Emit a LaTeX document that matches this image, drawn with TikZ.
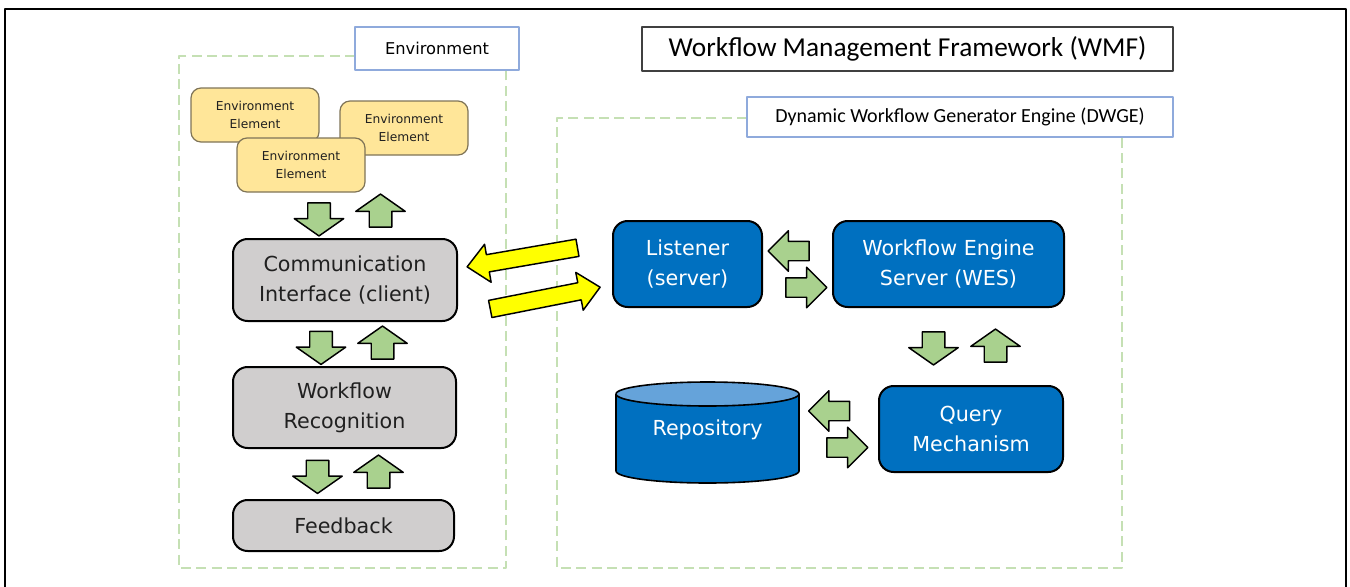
\documentclass[tikz,border=0pt]{standalone}
\usepackage{fontspec}
\setmainfont{DejaVu Sans}
\newfontfamily\calibrifont{Carlito}
\usetikzlibrary{shapes.arrows}

\definecolor{labelblue}{HTML}{8FAADC}
\definecolor{zonegreen}{HTML}{C5E0B4}
\definecolor{elemyellow}{HTML}{FFE699}
\definecolor{elemborder}{HTML}{7F7457}
\definecolor{greyfill}{HTML}{D0CECE}
\definecolor{serverblue}{HTML}{0070C0}
\definecolor{repotop}{HTML}{65A3DA}
\definecolor{flowgreen}{HTML}{A9D18E}
\definecolor{linkyellow}{HTML}{FFFF00}
\definecolor{darktext}{HTML}{202020}

\begin{document}
\begin{tikzpicture}[x=0.75pt, y=-0.75pt, every node/.style={align=center, inner sep=0pt}, line join=round]
		\tikzstyle{labelbox} = [draw=labelblue, fill=white, line width=0.9pt]
		\tikzstyle{zone} = [draw=zonegreen, line width=1.5pt, dash pattern=on 7.5pt off 4pt]
		\tikzstyle{element} = [draw=elemborder, fill=elemyellow, line width=0.9pt, rounded corners=7.5pt, minimum width=96pt, minimum height=40.5pt, font=\fontsize{9.2}{13}\selectfont, text=darktext]
		\tikzstyle{client} = [draw=black, fill=greyfill, line width=1.5pt, rounded corners=11pt, font=\fontsize{15.5}{22.5}\selectfont, text=darktext]
		\tikzstyle{server} = [draw=black, fill=serverblue, line width=1.5pt, rounded corners=11pt, font=\fontsize{15.5}{22.5}\selectfont, text=white]
		\tikzstyle{flowv} = [single arrow, draw=black, fill=flowgreen, line width=1.1pt, inner xsep=0pt, inner ysep=7.9pt, minimum height=24.75pt, single arrow head extend=10.1pt, single arrow tip angle=110]
		\tikzstyle{flowh} = [single arrow, draw=black, fill=flowgreen, line width=1.1pt, inner xsep=0pt, inner ysep=6.75pt, minimum height=30.75pt, single arrow head extend=7.9pt, single arrow tip angle=90]
		\tikzstyle{link} = [single arrow, draw=black, fill=linkyellow, line width=1.1pt, inner xsep=0pt, inner ysep=6pt, minimum height=84pt, single arrow head extend=7.9pt, single arrow tip angle=85]
		
		\useasboundingbox (0,0) rectangle (1350,586);
		\draw[line width=2pt] (5,592) -- (5,9) -- (1346,9) -- (1346,592);
		
		% dashed zones
		\draw[zone] (355,56) -- (179,56) -- (179,568) -- (506,568) -- (506,70);
		\draw[zone] (747,118) -- (557,118) -- (557,568) -- (1122,568) -- (1122,137);
		
		% labels
		\node[labelbox, minimum width=123pt, minimum height=32.25pt, font=\fontsize{12.2}{14}\selectfont] (envlabel) at (437,48.5) {Environment};
		\node[draw=black!75, line width=0.9pt, fill=white, minimum width=398.25pt, minimum height=33pt, font=\calibrifont\fontsize{20.5}{24}\selectfont] (wmf) at (907.5,49) {Workflow Management Framework (WMF)};
		\node[labelbox, minimum width=319.5pt, minimum height=30pt, font=\calibrifont\fontsize{15}{18}\selectfont] (dwge) at (960,117) {Dynamic Workflow Generator Engine (DWGE)};
		
		% environment
		\node[element] (elem1) at (255,115) {Environment\\Element};
		\node[element] (elem2) at (404,128) {Environment\\Element};
		\node[element] (elem3) at (301,165) {Environment\\Element};
		
		\node[client, minimum width=168pt, minimum height=61.5pt] (comm) at (345,280) {Communication\\Interface (client)};
		\node[client, minimum width=167.25pt, minimum height=60.75pt] (recog) at (344.5,407.5) {Workflow\\Recognition};
		\node[client, minimum width=165.75pt, minimum height=38.25pt] (feedback) at (343.5,525.5) {Feedback};
		
		% engine
		\node[server, minimum width=111.75pt, minimum height=64.5pt] (listener) at (687.5,264) {Listener\\(server)};
		\node[server, minimum width=173.25pt, minimum height=64.5pt] (wes) at (948.5,264) {Workflow Engine\\Server (WES)};
		\node[server, minimum width=138pt, minimum height=64.5pt] (query) at (971,429) {Query\\Mechanism};
		
		\fill[serverblue] (616,394) -- (616,471) arc[start angle=180, end angle=0, x radius=91.5, y radius=12] -- (799,394) -- cycle;
		\draw[line width=1.2pt] (616,394) -- (616,471) arc[start angle=180, end angle=0, x radius=91.5, y radius=12] -- (799,394);
		\draw[line width=1.2pt, fill=repotop] (707.5,394) ellipse[x radius=91.5, y radius=12];
		\node[font=\fontsize{15.5}{22.5}\selectfont, text=white] (repo) at (707.5,430) {Repository};
		
		% green arrows
		\node[flowv, rotate=-90] (envdown) at (319,215.5) {};
		\node[flowv, rotate=90] (envup) at (380.5,214.5) {};
		\node[flowv, rotate=-90] (commdown) at (321,344) {};
		\node[flowv, rotate=90] (commup) at (382.5,346.5) {};
		\node[flowv, rotate=-90] (recogdown) at (317.5,473) {};
		\node[flowv, rotate=90] (recogup) at (378.5,475.5) {};
		\node[flowv, rotate=-90] (wesdown) at (933.5,344.5) {};
		\node[flowv, rotate=90] (wesup) at (995.5,349.5) {};
		\node[flowh, rotate=180] (lisleft) at (793.5,251) {};
		\node[flowh] (lisright) at (801.5,287.5) {};
		\node[flowh, rotate=180] (repoleft) at (834,411) {};
		\node[flowh] (reporight) at (842.5,447.5) {};
		
		% yellow links
		\node[link, rotate=189.8] (toclient) at (527,256.5) {};
		\node[link, rotate=11.2] (toserver) at (540.5,299) {};
	\end{tikzpicture}
\end{document}
